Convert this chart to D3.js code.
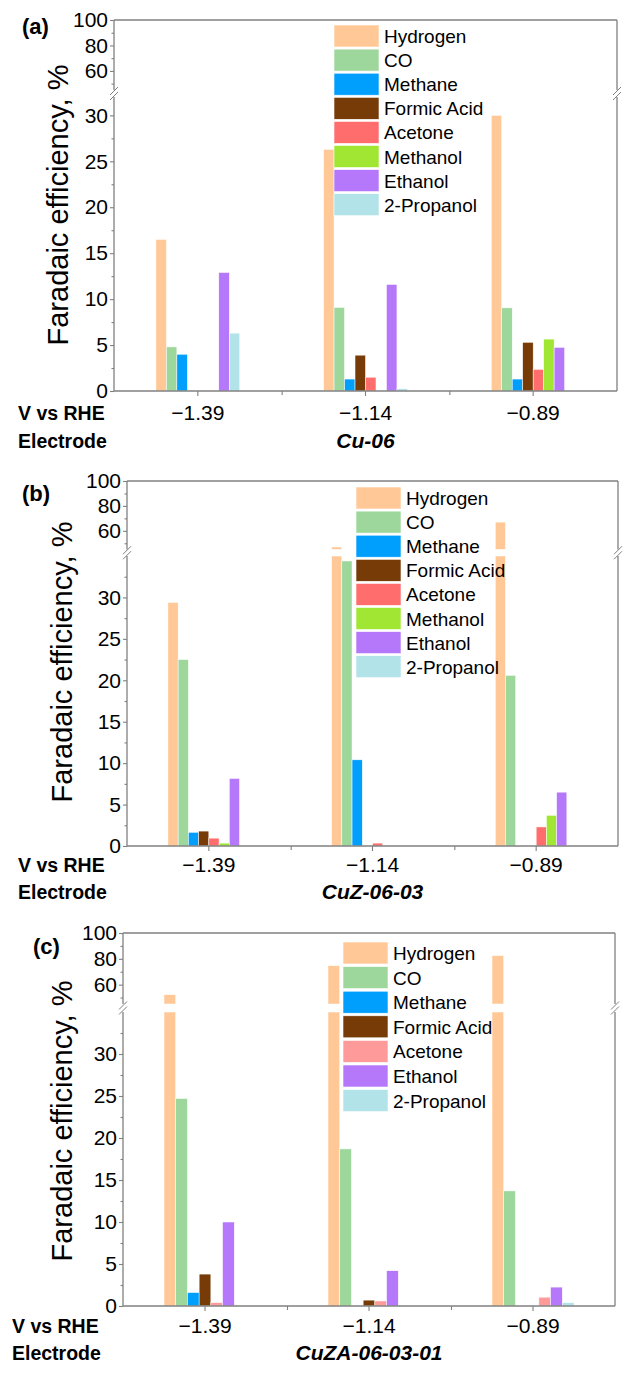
<!DOCTYPE html>
<html>
<head>
<meta charset="utf-8">
<script src="https://cdn.jsdelivr.net/npm/d3@7"></script>
<style>
  html, body { margin: 0; padding: 0; background: #fff; }
  svg { display: block; font-family: "Liberation Sans", Arial, sans-serif; }
</style>
</head>
<body>
<svg id="chart" width="631" height="1380"></svg>
<script>
// ---------------- data ----------------
const voltages = ["\u22121.39", "\u22121.14", "\u22120.89"];
const electrodes = ["Cu-06", "CuZ-06-03", "CuZA-06-03-01"];
const panelLetters = ["(a)", "(b)", "(c)"];
const productsAB = ["Hydrogen", "CO", "Methane", "Formic Acid", "Acetone", "Methanol", "Ethanol", "2-Propanol"];
const productsC = ["Hydrogen", "CO", "Methane", "Formic Acid", "Acetone", "Ethanol", "2-Propanol"];
const coloursAB = ["#FFC896", "#9ED79C", "#009FFD", "#763B07", "#FF6D6D", "#A0E632", "#B578FB", "#B2E3E8"];
const coloursC  = ["#FFC896", "#9ED79C", "#009FFD", "#763B07", "#FF9A9A", "#B578FB", "#B2E3E8"];
const yTicksLower = [0, 5, 10, 15, 20, 25, 30];
const yTicksUpper = [60, 80, 100];

// Faradaic efficiency (%) — rows = product, columns = voltage (−1.39, −1.14, −0.89)
const cu06 = [
  [16.5, 26.3, 30.0],   // Hydrogen
  [4.8, 9.1, 9.05],     // CO
  [4.0, 1.3, 1.3],      // Methane
  [0, 3.9, 5.3],        // Formic Acid
  [0, 1.5, 2.35],       // Acetone
  [0, 0, 5.65],         // Methanol
  [12.9, 11.6, 4.75],   // Ethanol
  [6.3, 0.25, 0]        // 2-Propanol
];
const cuz060303 = [
  [29.4, 47.0, 67.0],
  [22.5, 34.4, 20.6],
  [1.65, 10.4, 0],
  [1.8, 0, 0],
  [0.95, 0.35, 2.3],
  [0.35, 0, 3.7],
  [8.15, 0, 6.5],
  [0, 0, 0]
];
const cuza06030301 = [
  [52.2, 74.7, 82.5],
  [24.7, 18.7, 13.7],
  [1.6, 0, 0],
  [3.8, 0.7, 0],
  [0.4, 0.6, 1.05],
  [10.0, 4.2, 2.25],
  [0, 0.1, 0.4]
];

// ---------------- layout ----------------
const panels = [
  { values: cu06, products: productsAB, colours: coloursAB,
    left: 114, right: 617, top: 20, bottom: 391, upperBottom: 90, lowerTop: 97, lowerMax: 32,
    legX: 334, legY: 25, legPitch: 24.1, titleX: 68, titleY: 205,
    letterX: 22, letterY: 34, tickBase: 420, elecBase: 448, rowX: 18 },
  { values: cuz060303, products: productsAB, colours: coloursAB,
    left: 127, right: 618, top: 481, bottom: 846, upperBottom: 549.5, lowerTop: 556, lowerMax: 35,
    legX: 356, legY: 487, legPitch: 24.1, titleX: 72, titleY: 662,
    letterX: 22, letterY: 501, tickBase: 872, elecBase: 899, rowX: 18 },
  { values: cuza06030301, products: productsC, colours: coloursC,
    left: 123, right: 615, top: 933, bottom: 1306, upperBottom: 1004, lowerTop: 1012, lowerMax: 35,
    legX: 343, legY: 942, legPitch: 24.6, titleX: 72, titleY: 1121,
    letterX: 33, letterY: 954, tickBase: 1333, elecBase: 1360, rowX: 12 }
];

const svg = d3.select("#chart");
const axisColor = "#808080";

panels.forEach((p, pi) => {
  const g = svg.append("g");
  const x = d3.scaleBand().domain(voltages).range([p.left, p.right]);
  const groupW = x.bandwidth() * 0.5;
  const xs = d3.scaleBand().domain(p.products).range([-groupW / 2, groupW / 2]);
  const yLow = d3.scaleLinear().domain([0, p.lowerMax]).range([p.bottom, p.lowerTop]);
  const yUp = d3.scaleLinear().domain([45, 100]).range([p.upperBottom, p.top]);

  // bars
  p.products.forEach((prod, si) => {
    voltages.forEach((v, ci) => {
      const val = p.values[si][ci];
      if (val <= 0) return;
      const bx = x(v) + x.bandwidth() / 2 + xs(prod);
      const bw = xs.bandwidth();
      if (val <= p.lowerMax) {
        g.append("rect").attr("x", bx).attr("width", bw)
          .attr("y", yLow(val)).attr("height", yLow(0) - yLow(val))
          .attr("fill", p.colours[si]).attr("stroke", "#fff").attr("stroke-width", 0.5);
      } else {
        g.append("rect").attr("x", bx).attr("width", bw)
          .attr("y", yLow(p.lowerMax)).attr("height", yLow(0) - yLow(p.lowerMax))
          .attr("fill", p.colours[si]).attr("stroke", "#fff").attr("stroke-width", 0.5);
        g.append("rect").attr("x", bx).attr("width", bw)
          .attr("y", yUp(val)).attr("height", yUp(45) - yUp(val))
          .attr("fill", p.colours[si]).attr("stroke", "#fff").attr("stroke-width", 0.5);
      }
    });
  });

  // frame lines
  const line = (x1, y1, x2, y2) => g.append("line").attr("x1", x1).attr("y1", y1).attr("x2", x2).attr("y2", y2)
      .attr("stroke", axisColor).attr("stroke-width", 1.3);
  line(p.left, p.top, p.right, p.top);
  line(p.left, p.bottom, p.right, p.bottom);
  [p.left, p.right].forEach(ax => {
    line(ax, p.top, ax, p.upperBottom);
    line(ax, p.lowerTop, ax, p.bottom);
    const mid = (p.upperBottom + p.lowerTop) / 2;
    [-2.5, 2.5].forEach(off => {
      g.append("line").attr("x1", ax - 4).attr("y1", mid + off + 4).attr("x2", ax + 4).attr("y2", mid + off - 4)
        .attr("stroke", axisColor).attr("stroke-width", 1);
    });
  });

  // y axes
  const styleAxis = sel => {
    sel.select(".domain").remove();
    sel.selectAll(".tick line").attr("stroke", axisColor).attr("stroke-width", 1.1);
    sel.selectAll(".tick text").attr("fill", "#000").attr("font-size", "21px")
      .attr("font-family", "'Liberation Sans', Arial, sans-serif");
  };
  const minorLow = d3.range(2.5, p.lowerMax, 5);
  g.append("g").attr("transform", `translate(${p.left},0)`)
    .call(d3.axisLeft(yLow).tickValues(yTicksLower).tickSize(4).tickPadding(2)).call(styleAxis);
  g.append("g").attr("transform", `translate(${p.left},0)`)
    .call(d3.axisLeft(yLow).tickValues(minorLow).tickSize(2.5).tickFormat("")).call(styleAxis);
  g.append("g").attr("transform", `translate(${p.left},0)`)
    .call(d3.axisLeft(yUp).tickValues(yTicksUpper).tickSize(4).tickPadding(2)).call(styleAxis);
  g.append("g").attr("transform", `translate(${p.left},0)`)
    .call(d3.axisLeft(yUp).tickValues([50, 70, 90]).tickSize(2.5).tickFormat("")).call(styleAxis);

  // x axis
  const xa = g.append("g").attr("transform", `translate(0,${p.bottom})`)
    .call(d3.axisBottom(x).tickSize(5).tickPadding(8)).call(styleAxis);
  xa.selectAll(".tick text").attr("dy", null).attr("y", p.tickBase - p.bottom);
  const xMinor = d3.scaleLinear().domain([0, voltages.length]).range([p.left, p.right]);
  g.append("g").attr("transform", `translate(0,${p.bottom})`)
    .call(d3.axisBottom(xMinor).tickValues([1, 2]).tickSize(4).tickFormat("")).call(styleAxis);

  // row labels
  g.append("text").attr("x", p.rowX).attr("y", p.tickBase).attr("font-size", "19.5px")
    .attr("font-weight", "bold").text("V vs RHE");
  g.append("text").attr("x", p.rowX).attr("y", p.elecBase).attr("font-size", "19.5px")
    .attr("font-weight", "bold").text("Electrode");
  g.append("text").attr("x", x(voltages[1]) + x.bandwidth() / 2).attr("y", p.elecBase)
    .attr("text-anchor", "middle").attr("font-size", "21px").attr("font-weight", "bold")
    .attr("font-style", "italic").text(electrodes[pi]);

  // y title
  g.append("text").attr("transform", `translate(${p.titleX},${p.titleY}) rotate(-90)`)
    .attr("text-anchor", "middle").attr("font-size", "29px").text("Faradaic efficiency, %");

  // panel letter
  g.append("text").attr("x", p.letterX).attr("y", p.letterY).attr("font-size", "22px")
    .attr("font-weight", "bold").text(panelLetters[pi]);

  // legend
  p.products.forEach((prod, si) => {
    const ly = p.legY + si * p.legPitch;
    g.append("rect").attr("x", p.legX).attr("y", ly).attr("width", 45).attr("height", 22)
      .attr("fill", p.colours[si]).attr("stroke", "#fff").attr("stroke-width", 0.6);
    g.append("text").attr("x", p.legX + 50).attr("y", ly + 11 + 7).attr("font-size", "19px").text(prod);
  });
});
</script>
</body>
</html>
